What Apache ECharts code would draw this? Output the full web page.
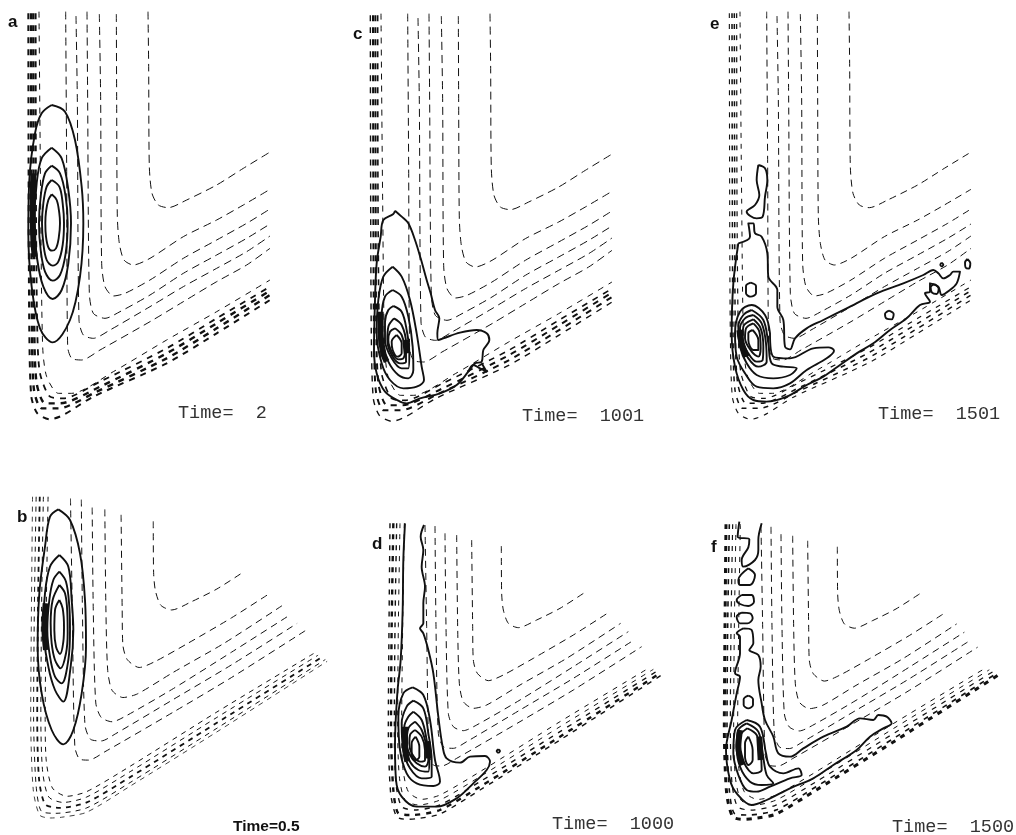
<!DOCTYPE html>
<html><head><meta charset="utf-8">
<style>html,body{margin:0;padding:0;background:#fff}#c{width:1016px;height:835px}</style>
<script src="https://cdn.jsdelivr.net/npm/echarts@6/dist/echarts.min.js"></script></head>
<body><div id="c"></div>
<script>
// Potential energy contours read from the top row (panels a, c, e)
const topOpen = [
 [[444,35],[446,200],[448,500],[456,580],[475,615],[505,623],[560,600],[650,555],[730,505],[812,455]],
 [[349,42],[350,300],[352,650],[358,730],[372,780],[400,795],[450,775],[550,710],[650,660],[730,615],[810,568]],
 [[298,42],[302,300],[305,790],[315,860],[340,888],[375,880],[450,840],[550,775],[650,720],[740,670],[810,627]],
 [[261,35],[263,300],[268,880],[280,940],[315,955],[360,935],[450,885],[550,820],[650,765],[740,715],[810,672]],
 [[228,48],[232,300],[237,960],[250,1005],[280,1015],[330,990],[450,920],[550,860],[650,805],[740,755],[810,708]],
 [[197,35],[200,500],[203,1040],[215,1075],[245,1080],[300,1050],[450,965],[550,905],[650,845],[740,795],[810,745]]
];
const topWall = [
 [[117,35],[122,600],[128,1040],[140,1130],[175,1180],[215,1180],[340,1115],[500,1020],[650,935],[810,840]],
 [[107,40],[108,600],[112,1000],[120,1120],[150,1190],[190,1195],[300,1145],[500,1045],[650,955],[810,860]],
 [[100,40],[101,600],[103,1000],[110,1150],[135,1210],[180,1210],[300,1160],[500,1060],[650,970],[810,872]],
 [[93,40],[94,600],[96,1000],[102,1170],[125,1225],[175,1225],[290,1175],[500,1075],[650,985],[810,885]],
 [[85,40],[86,600],[88,1000],[94,1190],[112,1240],[150,1258],[190,1245],[280,1190],[500,1090],[650,1000],[810,900]]
];
// Potential energy contours read from the bottom row (panels b, d, f)
const bottomOpen = [
 [[424,258],[425,400],[430,450],[445,490],[475,503],[530,480],[600,445],[675,397]],
 [[335,240],[338,500],[340,600],[352,640],[385,662],[430,645],[520,595],[640,525],[745,458]],
 [[290,225],[293,500],[298,670],[310,725],[340,745],[380,735],[480,675],[620,595],[782,490]],
 [[255,220],[258,500],[265,760],[280,800],[310,812],[350,795],[480,720],[640,620],[805,515]],
 [[225,198],[228,500],[235,820],[250,860],[280,865],[320,845],[480,750],[640,655],[822,540]],
 [[195,195],[200,500],[207,880],[220,915],[245,918],[290,895],[480,785],[640,690],[845,560]]
];
const bottomWall = [
 [[133,190],[128,500],[125,800],[128,920],[145,995],[185,1018],[240,1005],[360,935],[600,785],[870,622]],
 [[120,190],[115,500],[113,800],[118,950],[135,1020],[175,1035],[240,1020],[360,950],[600,800],[880,628]],
 [[110,190],[105,500],[103,800],[108,970],[125,1040],[165,1050],[240,1035],[360,965],[600,815],[890,634]],
 [[100,190],[95,500],[93,800],[100,990],[115,1060],[155,1065],[240,1050],[360,980],[600,830],[900,640]],
 [[90,190],[87,500],[85,800],[92,1000],[110,1070],[140,1078],[170,1076],[240,1062],[360,990],[600,840],[905,645]]
];
// Probability density contours, one list per panel
const densityA = [
 [[155,315],[195,335],[225,420],[245,560],[250,670],[240,830],[210,960],[158,1027],[120,985],[95,860],[85,700],[88,540],[105,400],[125,340],[155,315]],
 [[155,443],[185,475],[205,570],[213,670],[205,790],[185,870],[158,897],[130,860],[112,780],[103,670],[110,550],[125,475],[155,443]],
 [[155,497],[180,520],[197,590],[203,670],[197,760],[180,825],[158,842],[135,815],[122,750],[117,670],[122,590],[135,520],[155,497]],
 [[155,540],[178,560],[188,610],[192,670],[188,735],[175,785],[158,797],[140,780],[130,730],[126,670],[130,610],[140,560],[155,540]],
 [[155,583],[170,600],[178,640],[180,670],[176,715],[168,745],[156,752],[145,742],[138,710],[136,670],[138,635],[145,600],[155,583]]
];
const densityC = [
 [[165,632],[160,642],[130,660],[122,710],[110,790],[105,900],[102,1050],[110,1120],[135,1175],[180,1205],[200,1210],[240,1195],[300,1180],[350,1155],[385,1115],[405,1090],[425,1085],[430,1050],[448,1020],[440,1000],[410,990],[360,998],[310,1015],[295,1020],[292,1000],[298,955],[285,930],[272,880],[260,840],[242,775],[225,720],[205,670],[185,650],[165,632]],
 [[158,800],[185,830],[210,900],[230,1000],[245,1100],[252,1140],[230,1160],[190,1165],[150,1140],[125,1090],[110,1000],[115,900],[130,830],[158,800]],
 [[158,870],[185,890],[205,950],[218,1040],[220,1110],[205,1135],[175,1125],[145,1085],[125,1020],[125,950],[135,890],[158,870]],
 [[160,918],[185,935],[200,990],[208,1060],[205,1105],[185,1105],[155,1075],[135,1020],[135,965],[145,930],[160,918]],
 [[162,955],[185,975],[198,1030],[198,1085],[180,1090],[155,1065],[142,1020],[145,980],[162,955]],
 [[165,985],[185,1005],[195,1050],[190,1075],[175,1078],[155,1055],[145,1020],[150,995],[165,985]],
 [[170,1005],[185,1030],[185,1060],[172,1070],[158,1050],[155,1025],[170,1005]],
 [[385,1115],[400,1095],[420,1105],[440,1115],[425,1090]]
];
const densityE = [
 [[205,495],[225,505],[232,540],[225,590],[218,650],[200,655],[170,635],[195,615],[208,585],[200,540],[205,495]],
 [[145,730],[180,710],[175,670],[190,670],[195,700],[215,710],[232,760],[235,830],[262,870],[262,920],[280,960],[285,1040],[300,1048],[315,1015],[350,985],[400,960],[470,925],[560,880],[640,850],[700,825],[730,810],[745,820],[760,835],[780,825],[790,815],[810,815],[800,850],[780,870],[755,885],[745,860],[720,850],[720,875],[705,880],[720,905],[690,915],[650,955],[600,990],[550,1030],[500,1060],[450,1095],[400,1130],[350,1155],[290,1190],[230,1205],[190,1200],[160,1170],[135,1100],[125,1000],[130,850],[145,730]],
 [[240,1000],[250,1070],[300,1075],[370,1045],[415,1042],[432,1052],[410,1075],[350,1110],[300,1150],[250,1165],[200,1160],[165,1120],[140,1070],[135,1000],[150,935],[185,915],[225,945],[240,1000]],
 [[185,930],[220,960],[235,1030],[245,1090],[280,1100],[320,1105],[300,1125],[250,1135],[200,1125],[170,1090],[150,1040],[145,980],[160,945],[185,930]],
 [[190,945],[215,970],[228,1030],[230,1085],[205,1100],[175,1075],[155,1030],[150,985],[165,955],[190,945]],
 [[190,958],[212,985],[220,1040],[218,1080],[200,1085],[175,1060],[158,1020],[160,980],[190,958]],
 [[190,970],[208,995],[212,1045],[205,1070],[185,1055],[165,1015],[168,985],[190,970]],
 [[188,990],[205,1020],[205,1050],[190,1050],[175,1020],[175,1000],[188,990]],
 [[182,848],[198,858],[198,880],[182,890],[168,880],[168,858],[182,848]],
 [[597,932],[611,942],[605,958],[590,956],[585,942],[597,932]],
 [[832,777],[841,790],[836,806],[827,803],[825,788],[832,777]],
 [[733,852],[746,866],[740,882],[726,878],[722,862],[733,852]],
 [[755,788],[760,794],[755,799],[751,794],[755,788]]
];
const densityB = [
 [[175,148],[210,180],[240,280],[255,420],[258,560],[245,700],[220,810],[190,853],[155,810],[125,700],[113,560],[118,400],[135,260],[150,170],[175,148]],
 [[178,285],[205,320],[215,420],[220,510],[212,620],[190,725],[165,690],[145,620],[130,510],[135,400],[150,320],[178,285]],
 [[178,335],[198,365],[208,440],[210,510],[205,600],[185,670],[165,650],[150,590],[142,510],[148,420],[160,360],[178,335]],
 [[178,375],[195,400],[202,460],[203,520],[198,580],[182,625],[165,600],[155,550],[152,490],[158,420],[178,375]],
 [[178,420],[188,445],[192,500],[190,545],[180,582],[168,560],[163,510],[165,450],[178,420]]
];
const densityD = [
 [[135,190],[130,300],[128,450],[122,600],[112,700],[105,850],[108,960],[125,1010],[170,1040],[230,1040],[290,1015],[340,970],[380,930],[390,905],[375,888],[330,890],[300,908],[260,895],[248,860],[235,770],[220,640],[205,570],[190,520],[180,505],[190,490],[190,430],[195,380],[185,320],[190,270],[182,230],[192,195]],
 [[158,682],[190,705],[210,780],[225,900],[240,965],[220,978],[170,970],[140,940],[120,870],[115,770],[130,700],[158,682]],
 [[160,722],[190,745],[205,820],[215,900],[215,950],[185,955],[150,925],[130,870],[125,790],[140,740],[160,722]],
 [[160,755],[185,780],[200,840],[208,900],[205,935],[175,930],[150,905],[135,860],[133,800],[145,770],[160,755]],
 [[165,785],[185,810],[200,860],[205,900],[195,920],[170,910],[150,885],[140,850],[145,805],[165,785]],
 [[165,810],[185,830],[195,870],[195,900],[180,905],[155,880],[148,850],[150,825],[165,810]],
 [[167,830],[178,860],[178,890],[167,900],[155,885],[155,850],[167,830]],
 [[415,868],[420,873],[415,878],[410,873],[415,868]]
];
const densityF = [
 [[148,185],[143,230],[178,238],[175,262],[155,300],[160,320],[195,300],[205,270],[205,240],[215,190]],
 [[175,325],[195,345],[180,375],[150,375],[145,360],[175,325]],
 [[155,405],[185,405],[192,425],[175,438],[150,432],[140,420],[155,405]],
 [[155,458],[180,460],[188,475],[172,490],[150,490],[140,470],[155,458]],
 [[160,505],[185,510],[190,550],[178,570],[205,585],[212,620],[205,660],[215,730],[225,780],[250,830],[265,880],[300,890],[340,865],[400,830],[470,800],[510,775],[550,780],[565,765],[590,770],[605,790],[580,805],[540,830],[500,870],[430,915],[370,955],[300,985],[230,1020],[185,1035],[140,1000],[120,960],[108,870],[125,780],[140,700],[150,650],[135,640],[150,580],[150,530],[140,520],[160,505]],
 [[170,780],[210,800],[228,880],[240,920],[280,940],[325,925],[335,945],[300,955],[240,980],[200,995],[170,990],[145,945],[130,880],[135,810],[170,780]],
 [[170,790],[205,815],[218,880],[230,945],[250,970],[215,975],[180,965],[150,920],[140,860],[145,810],[170,790]],
 [[172,805],[200,825],[212,880],[215,930],[190,940],[160,905],[148,860],[152,825],[172,805]],
 [[175,830],[188,870],[188,900],[175,915],[165,890],[165,850],[175,830]],
 [[175,707],[189,718],[189,735],[175,745],[161,735],[161,718],[175,707]]
];
// Solid dark crowding of the innermost density contours
const crowdA = [[[100,520],[98,620],[100,720],[104,770]]];
const crowdC = [[[122,935],[122,1000],[130,1060],[140,1085]],[[196,1020],[200,1060]]];
const crowdE = [[[148,990],[155,1030],[170,1070]]];
const crowdB = [[[137,430],[133,500],[138,570]]];
const crowdD = [[[135,800],[135,860],[142,905]],[[203,845],[206,895]]];
const crowdF = [[[150,810],[145,860],[158,915]],[[208,830],[212,900]]];
const panelLetters = ['a','c','e','b','d','f'];
const timeLabels = ['Time=  2','Time=  1001','Time=  1501','Time=0.5','Time=  1000','Time=  1500'];

const panels = [
 {open:topOpen, wall:topWall, density:densityA, crowd:crowdA, pot:[0,0,300,430], crop:[0,0,300,430], dash:[8,5], wallDash:[6,6], wallW:[1,1.8,2.4,2.4,2], lt:[8,14], tt:[178,404], mono:true},
 {open:topOpen, wall:topWall, density:densityC, crowd:crowdC, pot:[342,2,300,430], crop:[340,0,320,430], dash:[8,5], wallDash:[6,6], wallW:[1,1.6,2,2,1.4], lt:[353,26], tt:[522,407], mono:true},
 {open:topOpen, wall:topWall, density:densityE, crowd:crowdE, pot:[701,0,300,430], crop:[690,0,326,430], dash:[7,5], wallDash:[5,6], wallW:[1,1.2,1.5,1.5,1.1], lt:[710,16], tt:[878,405], mono:true},
 {open:bottomOpen, wall:bottomWall, density:densityB, crowd:crowdB, pot:[-1,428,348,409.5], crop:[0,460,340,375], dash:[7,5], wallDash:[5,5], wallW:[1,1,1.8,1,0.8], lt:[17,509], tt:[233,819], mono:false},
 {open:bottomOpen, wall:bottomWall, density:densityD, crowd:crowdD, pot:[360,460,320,375], crop:[360,460,320,375], dash:[7,5], wallDash:[5,6], wallW:[1,1,1.4,2.4,1.4], lt:[372,536], tt:[552,815], mono:true},
 {open:bottomOpen, wall:bottomWall, density:densityF, crowd:crowdF, pot:[696,461,320,375], crop:[690,460,326,375], dash:[7,5], wallDash:[5,6], wallW:[1,1,1.2,1.6,3], lt:[711,539], tt:[892,818], mono:true}
];

const grid=[], xAxis=[], yAxis=[], series=[], title=[];
function addGrid(r){
  const i=grid.length;
  grid.push({left:r[0],top:r[1],width:r[2],height:r[3],containLabel:false,show:false});
  xAxis.push({type:'value',gridIndex:i,min:0,max:r[2]===348?960:r[2]*3,show:false});
  yAxis.push({type:'value',gridIndex:i,min:0,max:r[2]===348?1125:r[3]*3,inverse:true,show:false});
  return i;
}
function line(i,data,style,smooth){
  series.push({type:'line',xAxisIndex:i,yAxisIndex:i,data:data,showSymbol:false,silent:true,clip:false,
    smooth:smooth,lineStyle:Object.assign({color:'#111',cap:'butt',join:'round'},style)});
}
panels.forEach((p,k)=>{
  const gp=addGrid(p.pot), gd=addGrid(p.crop);
  p.open.forEach(d=>line(gp,d,{width:1,type:p.dash},0.25));
  p.wall.forEach((d,n)=>line(gp,d,{width:p.wallW[n],type:p.wallDash},0.25));
  p.density.forEach(d=>line(gd,d,{width:1.9},0.35));
  p.crowd.forEach(d=>line(gd,d,{width:6},0.3));
  title.push({text:panelLetters[k],left:p.lt[0],top:p.lt[1],padding:0,
    textStyle:{fontFamily:'Liberation Sans',fontWeight:'bold',fontSize:17,color:'#111'}});
  title.push({text:timeLabels[k],left:p.tt[0],top:p.tt[1],padding:0,
    textStyle:p.mono?{fontFamily:'Liberation Mono',fontWeight:'normal',fontSize:18.5,color:'#333'}
                    :{fontFamily:'Liberation Sans',fontWeight:'bold',fontSize:15.5,color:'#111'}});
});
const chart=echarts.init(document.getElementById('c'),null,{renderer:'canvas'});
chart.setOption({animation:false,backgroundColor:'#fff',title,grid,xAxis,yAxis,series});
</script></body></html>
